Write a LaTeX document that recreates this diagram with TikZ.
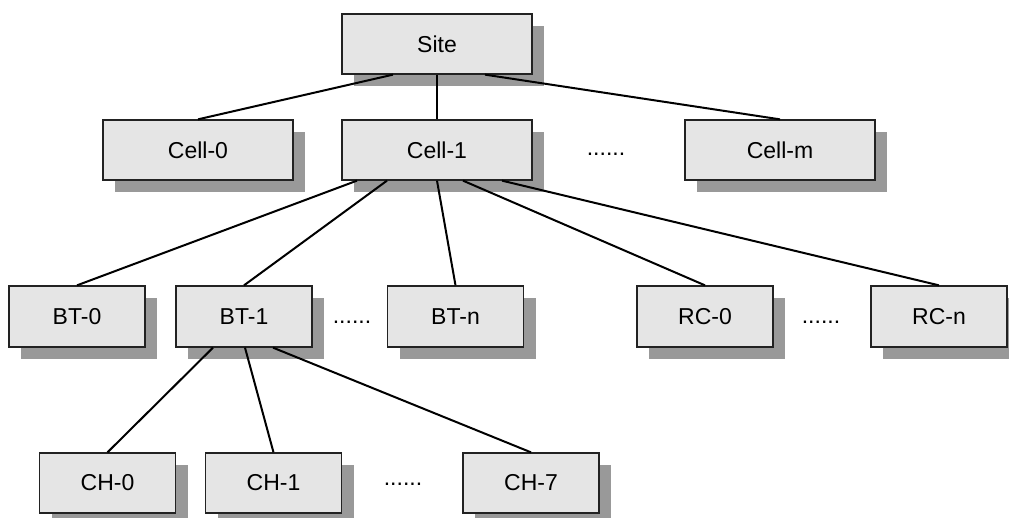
\documentclass[tikz,border=0pt]{standalone}
\usepackage{fontspec}
\setmainfont{Liberation Sans}
\usetikzlibrary{shadows}
\definecolor{boxfill}{HTML}{E5E5E5}
\definecolor{shadowgray}{HTML}{999999}
\definecolor{boxline}{HTML}{222222}
\begin{document}
\begin{tikzpicture}[x=1pt,y=-1pt,
  box/.style={draw=boxline, line width=1.3pt, fill=boxfill, inner sep=0pt,
    general shadow={fill=shadowgray, shadow xshift=12pt, shadow yshift=-12pt},
    font=\fontsize{23}{27}\selectfont},
  bigbox/.style={box, minimum width=190pt, minimum height=60pt},
  smallbox/.style={box, minimum width=136pt, minimum height=61pt},
  link/.style={line width=2pt, black},
  dots/.style={anchor=base, inner sep=0pt, font=\fontsize{23}{27}\selectfont}]
\useasboundingbox (0,0) rectangle (1009,518);
% nodes
\node[bigbox] (site) at (437,44) {Site};
\node[bigbox] (cell0) at (198,150) {Cell-0};
\node[bigbox] (cell1) at (437,150) {Cell-1};
\node[bigbox] (cellm) at (780,150) {Cell-m};
\node[smallbox] (bt0) at (77,316.5) {BT-0};
\node[smallbox] (bt1) at (244,316.5) {BT-1};
\node[smallbox] (btn) at (455.5,316.5) {BT-n};
\node[smallbox] (rc0) at (705,316.5) {RC-0};
\node[smallbox] (rcn) at (939,316.5) {RC-n};
\node[smallbox, minimum height=60pt] (ch0) at (107.5,483) {CH-0};
\node[smallbox, minimum height=60pt] (ch1) at (273.5,483) {CH-1};
\node[smallbox, minimum height=60pt] (ch7) at (531,483) {CH-7};
% dots
\node[dots] (d1) at (606,156) {......};
\node[dots] (d2) at (352,324) {......};
\node[dots] (d3) at (821,324) {......};
\node[dots] (d4) at (403,485) {......};
% connectors
\draw[link] ([xshift=-44pt]site.south) -- (cell0.north);
\draw[link] (site.south) -- (cell1.north);
\draw[link] ([xshift=48pt]site.south) -- (cellm.north);
\draw[link] ([xshift=-80pt]cell1.south) -- (bt0.north);
\draw[link] ([xshift=-50pt]cell1.south) -- (bt1.north);
\draw[link] ([xshift=0pt]cell1.south) -- (btn.north);
\draw[link] ([xshift=26pt]cell1.south) -- (rc0.north);
\draw[link] ([xshift=65pt]cell1.south) -- (rcn.north);
\draw[link] ([xshift=-31pt]bt1.south) -- (ch0.north);
\draw[link] ([xshift=1pt]bt1.south) -- (ch1.north);
\draw[link] ([xshift=29pt]bt1.south) -- (ch7.north);
\end{tikzpicture}
\end{document}
